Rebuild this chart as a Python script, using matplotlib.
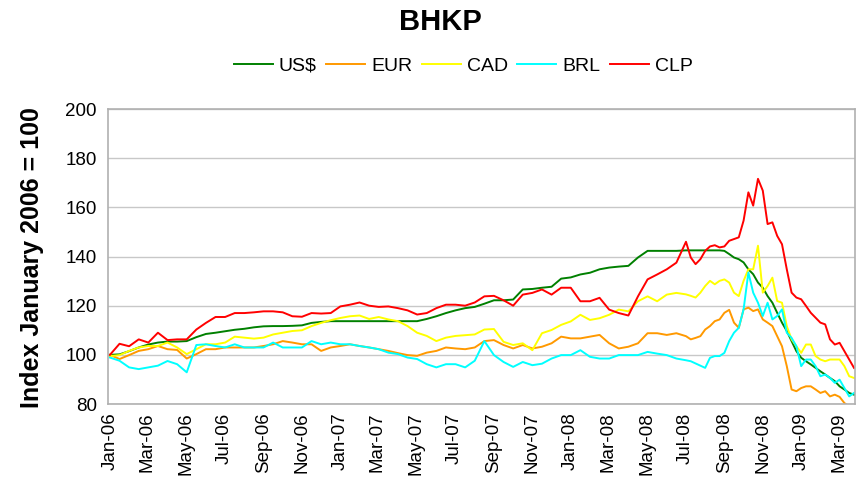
import matplotlib
matplotlib.use('Agg')
import matplotlib.pyplot as plt
import matplotlib.dates as mdates
import numpy as np
import pandas as pd

plt.rcParams['font.family'] = ['Liberation Sans', 'DejaVu Sans']

# sample times, in months since 1 Jan 2006 (half-monthly, then weekly from Jul-08)
months = np.concatenate([np.arange(0, 30, 0.5), np.arange(30, 38.76, 0.25)])

usd = [100, 100.2, 101.5, 103, 104.2, 105, 105.4, 105.4, 105.6, 107.2,
       108.5, 109, 109.6, 110.2, 110.6, 111.2, 111.6, 111.7, 111.7, 111.8,
       112, 113, 113.4, 113.7, 113.7, 113.7, 113.7, 113.7, 113.7, 113.7,
       113.7, 113.7, 113.7, 114.6, 115.7, 117, 118.1, 119, 119.5, 120.8,
       122.2, 122.2, 122.5, 126.6, 126.8, 127.3, 127.7, 131, 131.5, 132.7,
       133.4, 134.8, 135.5, 135.9, 136.2, 139.6, 142.3, 142.3, 142.3, 142.3,
       142.5, 142.5, 142.5, 142.5, 142.5, 142.5, 142.5, 142.5, 142.3, 141,
       139.6, 138.9, 137.6, 134.8, 132.8, 129.4, 127.3, 123.9, 121.2, 117.1,
       113.1, 109.7, 105.6, 101.5, 98.8, 97.4, 96.1, 94.7, 93.3, 92,
       90.6, 89.3, 87.2, 85.9, 84.5, 83.8]

eur = [100, 98.3, 99.9, 101.6, 102.3, 103.6, 102.3, 102, 98.5, 100.3,
       102.3, 102.3, 103, 103, 103, 103, 103.6, 104.3, 105.6, 105,
       104.3, 104.3, 101.6, 103, 103.6, 104.3, 103.6, 103, 102.3, 101.6,
       100.7, 99.9, 99.6, 100.9, 101.6, 103, 102.6, 102.3, 103, 105.6,
       106, 104, 102.6, 104, 102.6, 103.3, 104.7, 107.4, 106.7, 106.7,
       107.4, 108.1, 104.7, 102.6, 103.3, 104.7, 108.8, 108.8, 108.1, 108.8,
       107.6, 106.3, 106.9, 107.6, 110.3, 111.7, 113.7, 114.4, 117.1, 118.3,
       113.1, 111, 118.5, 119.2, 117.8, 118.5, 114.4, 113.1, 111.7, 107.6,
       103.5, 95.4, 85.9, 85.2, 86.5, 87.2, 87.2, 85.9, 84.5, 85.2,
       83.1, 83.8, 82.9, 80.4, 79, 78]

cad = [99.5, 99.9, 101.6, 103, 103.6, 103.6, 105, 103, 100.3, 102.3,
       104.3, 104.3, 105, 107.4, 107, 106.6, 107, 108.3, 109, 109.7,
       110, 111.7, 113, 114.1, 115, 115.7, 116, 114.6, 115.4, 114.4,
       113.7, 111.7, 109, 107.7, 105.6, 107, 107.7, 108, 108.3, 110.3,
       110.5, 105.3, 104, 104.7, 101.9, 108.8, 110.1, 112.2, 113.6, 116.3,
       114.2, 114.9, 116.3, 118.4, 117.7, 121.8, 123.8, 121.8, 124.5, 125.2,
       124.6, 124, 123.3, 125.3, 128, 130.1, 128.7, 130.1, 130.7, 129.4,
       125.3, 123.9, 130.1, 134.8, 134.8, 144.4, 125.3, 128, 131.4, 121.9,
       121.2, 111.7, 106.3, 103.5, 100.8, 104.2, 104.2, 99.5, 98.1, 97.4,
       98.1, 98.1, 98.1, 95.4, 91.3, 90.6]

brl = [98.9, 97.6, 94.9, 94.2, 94.9, 95.6, 97.5, 96.2, 92.9, 104,
       104.3, 103.6, 103, 104.3, 103, 103, 103, 105, 103, 103,
       103, 105.6, 104.3, 105, 104.3, 104.3, 103.6, 103, 102.3, 100.9,
       100.3, 98.9, 98.3, 96.2, 94.9, 96.2, 96.2, 94.9, 97.6, 105.6,
       99.9, 97.1, 95.1, 97.1, 95.8, 96.4, 98.5, 99.9, 99.9, 101.9,
       99.2, 98.5, 98.5, 99.9, 99.9, 99.9, 101.2, 100.5, 99.9, 98.5,
       97.8, 97.4, 96.5, 95.6, 94.7, 98.8, 99.5, 99.5, 100.8, 105.6,
       109, 111, 118.5, 133.5, 125.3, 121.2, 115.8, 121.2, 114.4, 115.8,
       118.5, 109, 106.9, 103.5, 95.4, 98.1, 98.1, 95.4, 91.3, 92,
       90.6, 88.6, 89.9, 86.5, 83.1, 84.5]

clp = [100, 104.5, 103.5, 106.3, 105, 109, 106, 106.3, 106.3, 110.3,
       113, 115.4, 115.4, 117, 117, 117.3, 117.7, 117.7, 117.3, 115.7,
       115.5, 117, 116.8, 117, 119.7, 120.4, 121.3, 120, 119.5, 119.7,
       119, 118.1, 116.4, 117, 119, 120.4, 120.4, 120, 121.3, 123.8,
       124, 122.2, 120, 124.5, 125.2, 126.6, 124.5, 127.3, 127.3, 121.8,
       121.8, 123.2, 118.4, 117, 116, 123.8, 130.7, 132.7, 134.8, 137.5,
       146, 139.6, 136.9, 138.9, 142.3, 144.1, 144.6, 143.7, 144.1, 146.4,
       147.1, 147.8, 154.6, 166.1, 160.7, 171.6, 166.8, 153.2, 153.9, 148.4,
       145, 134.8, 125.3, 123.3, 122.6, 119.9, 117.1, 115.1, 113.1, 112.4,
       106.3, 104.2, 104.9, 101.5, 98.1, 94.7]

series = ['US$', 'EUR', 'CAD', 'BRL', 'CLP']
colors = ['#008000', '#FF9900', '#FFFF00', '#00FFFF', '#FF0000']

start = pd.Timestamp('2006-01-01')
dates = start + pd.to_timedelta(months * 30.4375, unit='D')

fig = plt.figure(figsize=(8.56, 4.88), dpi=100)
ax = fig.add_axes([0.1262, 0.1721, 0.8726, 0.6045])

for name, vals, c in zip(series, [usd, eur, cad, brl, clp], colors):
    ax.plot(dates, vals, color=c, lw=1.4, label=name)

ax.set_ylim(80, 200)
ax.set_yticks(range(80, 201, 20))
ax.set_xlim(start - pd.Timedelta(days=3), start + pd.Timedelta(days=1181))
ax.xaxis.set_major_locator(mdates.MonthLocator(bymonth=[1, 3, 5, 7, 9, 11]))
ax.xaxis.set_major_formatter(mdates.DateFormatter('%b-%y'))
ax.tick_params(axis='x', rotation=90, labelsize=13.5, length=0, pad=6)
ax.tick_params(axis='y', labelsize=13.5, length=0, pad=8)

ax.grid(axis='y', color='#C8C8C8', lw=1)
ax.set_axisbelow(True)
for s in ax.spines.values():
    s.set_color('#B0B0B0')
    s.set_linewidth(1.2)

fig.text(0.514, 0.955, 'BHKP', fontsize=21, fontweight='bold', ha='center', va='center')
fig.text(0.037, 0.473, 'Index January 2006 = 100', fontsize=18, fontweight='bold',
         rotation=90, ha='center', va='center')
fig.legend(loc='center', bbox_to_anchor=(0.541, 0.865), ncol=5, frameon=False,
           fontsize=14, handlelength=2.0, handletextpad=0.3, columnspacing=0.5)

fig.savefig('out.png', dpi=100)
